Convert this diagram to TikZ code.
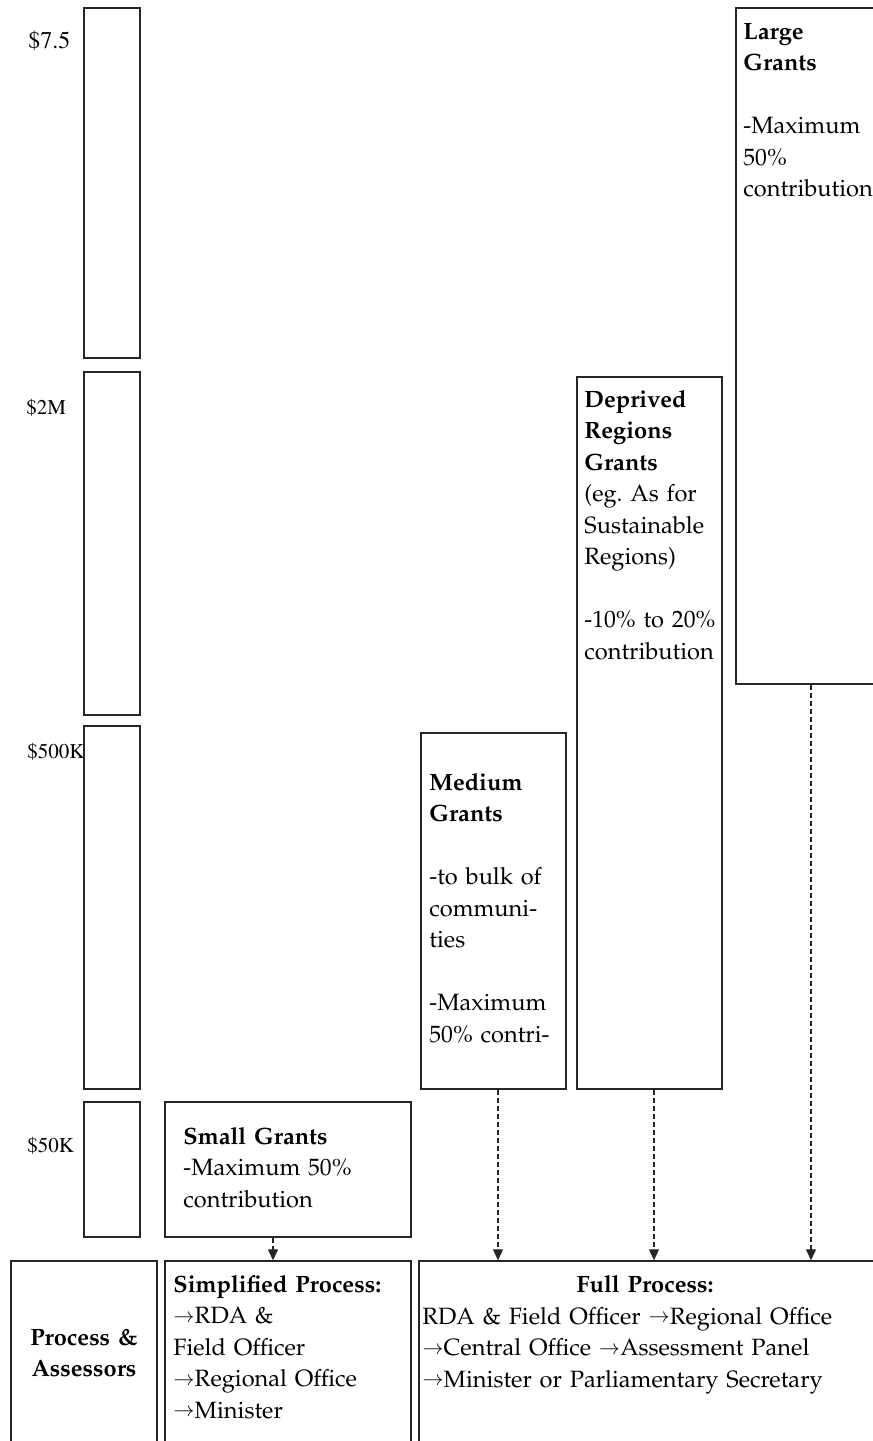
\documentclass[tikz,border=0pt]{standalone}
\usepackage[T1]{fontenc}
\usepackage{mathpazo}
\usetikzlibrary{fit,arrows.meta}
\frenchspacing
\newcommand\myarr{\raisebox{0.6pt}{\fontsize{10}{10}\selectfont$\rightarrow$}}
\tikzset{
  box/.style={draw=black!85, line width=0.7pt, inner sep=0pt},
  txt/.style={anchor=base west, inner sep=0pt, align=left, text width=110pt,
    font=\fontsize{11.8}{15.75}\selectfont},
  ctxt/.style={anchor=base, inner sep=0pt, align=center, text width=70pt,
    font=\fontsize{11.8}{15.5}\selectfont},
  lbl/.style={anchor=base west, inner sep=0pt, font=\fontfamily{ptm}\fontsize{10.5}{12}\selectfont},
  flow/.style={draw=black!85, line width=0.6pt, dash pattern=on 2.5pt off 1.5pt,
    -{Triangle[width=5pt,length=5.5pt]}}
}
\begin{document}
\begin{tikzpicture}[x=0.5pt,y=-0.5pt]
\useasboundingbox (0,0) rectangle (873,1441);
% scale boxes
\node[box, fit={(84,8) (140,358)}] (s1) {};
\node[box, fit={(84,372) (140,715)}] (s2) {};
\node[box, fit={(84,726) (140,1089)}] (s3) {};
\node[box, fit={(84,1102) (140,1237)}] (s4) {};
\node[lbl, font=\fontfamily{ptm}\fontsize{12}{14}\selectfont] (l1) at (28,48) {\$7.5};
\node[lbl] (l2) at (26,414) {\$2M};
\node[lbl] (l3) at (27,758) {\$500K};
\node[lbl] (l4) at (27,1152) {\$50K};
% grant boxes
\node[box, fit={(165,1102) (411,1237)}] (small) {};
\node[box, fit={(421,733) (566,1089)}] (medium) {};
\node[box, fit={(577,377) (722,1089)}] (deprived) {};
\node[box, fit={(736,8) (885,684)}] (large) {};
\node[txt] (tsmall) at (183,1144) {\textbf{Small Grants}\\-Maximum 50\%\\contribution};
\node[txt] (tmedium) at (429,790) {\textbf{Medium}\\\textbf{Grants}\\[15.75pt]-to bulk of\\communi-\\ties\\[15.75pt]-Maximum\\50\% contri-};
\node[txt] (tdeprived) at (584,407) {\textbf{Deprived}\\\textbf{Regions}\\\textbf{Grants}\\(eg. As for\\Sustainable\\Regions)\\[15.75pt]-10\% to 20\%\\contribution};
\node[txt] (tlarge) at (743,39) {\textbf{Large}\\\textbf{Grants}\\[15.75pt]-Maximum\\50\%\\contribution};
% bottom boxes
\node[box, fit={(11,1261) (157,1460)}] (pa) {};
\node[box, fit={(165,1261) (411,1460)}] (simp) {};
\node[box, fit={(419,1261) (885,1460)}] (full) {};
\node[ctxt] (tpa) at (84,1345) {\textbf{Process \&}\\\textbf{Assessors}};
\node[txt] (tsimp) at (173,1292) {\textbf{Simplified Process:}\\\myarr RDA \&\\Field Officer\\\myarr Regional Office\\\myarr Minister};
\node[ctxt] (tfullh) at (645,1292) {\textbf{Full Process:}};
\node[txt, text width=250pt] (tfull) at (422,1324) {RDA \& Field Officer \myarr Regional Office\\\myarr Central Office \myarr Assessment Panel\\\myarr Minister or Parliamentary Secretary};
% connectors
\coordinate (xa) at (273,0);
\coordinate (xb) at (498,0);
\coordinate (xc) at (654,0);
\coordinate (xd) at (811,0);
\draw[flow] (small.south -| xa) -- (simp.north -| xa);
\draw[flow] (medium.south -| xb) -- (full.north -| xb);
\draw[flow] (deprived.south -| xc) -- (full.north -| xc);
\draw[flow] (large.south -| xd) -- (full.north -| xd);
\end{tikzpicture}
\end{document}
